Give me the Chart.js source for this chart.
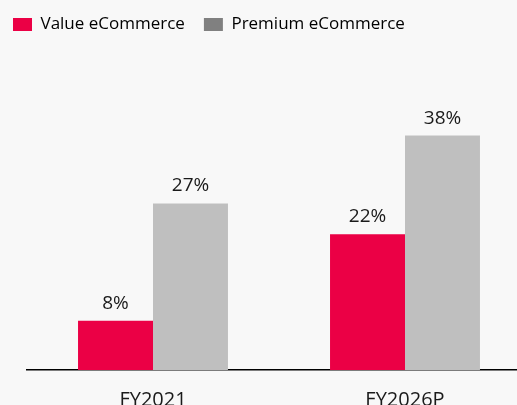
<!DOCTYPE html>
<html>
<head>
<meta charset="utf-8">
<script src="https://cdn.jsdelivr.net/npm/chart.js@4"></script>
<style>
  html, body { margin: 0; padding: 0; background: #F8F8F8; overflow: hidden; }
  #wrap { width: 532px; height: 430px; }
</style>
</head>
<body>
<div id="wrap"><canvas id="myChart" width="532" height="430"></canvas></div>
<script>
const categories = ["FY2021", "FY2026P"];
const valueEcom = [8, 22];
const premiumEcom = [27, 38];
const seriesNames = ["Value eCommerce", "Premium eCommerce"];

const FONT = "'Open Sans', 'Noto Sans', sans-serif";

// labels above the bars
const barLabels = {
    id: 'barLabels',
    afterDatasetsDraw(chart) {
        const c = chart.ctx;
        c.save();
        c.font = "19px " + FONT;
        c.fillStyle = "#1a1a1a";
        c.textAlign = "center";
        c.textBaseline = "alphabetic";
        chart.data.datasets.forEach((ds, i) => {
            chart.getDatasetMeta(i).data.forEach((bar, j) => {
                c.fillText(ds.data[j] + "%", bar.x, bar.y - 12);
            });
        });
        c.restore();
    }
};

const ctx = document.getElementById('myChart').getContext('2d');
let graphic = new Chart(ctx, {
    type: 'bar',
    data: {
        labels: categories,
        datasets: [{
            label: seriesNames[0],
            data: valueEcom,
            backgroundColor: "#EB0045",
            legendColor: "#EB0045",
        }, {
            label: seriesNames[1],
            data: premiumEcom,
            backgroundColor: "#BFBFBF",
            legendColor: "#808080",
        }]
    },
    options: {
        responsive: false,
        animation: false,
        layout: { padding: { left: -6, right: 1, top: -3, bottom: 0 } },
        datasets: { bar: { barPercentage: 1, categoryPercentage: 0.595 } },
        plugins: {
            tooltip: { enabled: false },
            legend: {
                align: 'start',
                labels: {
                    boxWidth: 19,
                    boxHeight: 13,
                    padding: 19,
                    color: "#1a1a1a",
                    font: { family: FONT, size: 17 },
                    generateLabels: (chart) => chart.data.datasets.map((ds, i) => ({
                        text: ds.label,
                        fillStyle: ds.legendColor,
                        strokeStyle: ds.legendColor,
                        lineWidth: 0,
                        datasetIndex: i,
                    })),
                }
            }
        },
        scales: {
            x: {
                grid: { display: false, drawTicks: false },
                border: { display: true, color: "#000", width: 1.5 },
                ticks: { color: "#1a1a1a", font: { family: FONT, size: 20 }, padding: 18 }
            },
            y: {
                min: 0,
                max: 53,
                grid: { display: false, drawTicks: false },
                border: { display: false },
                ticks: { display: false },
                afterFit: (scale) => { scale.width = 33; }
            }
        }
    },
    plugins: [barLabels]
});
</script>
</body>
</html>
